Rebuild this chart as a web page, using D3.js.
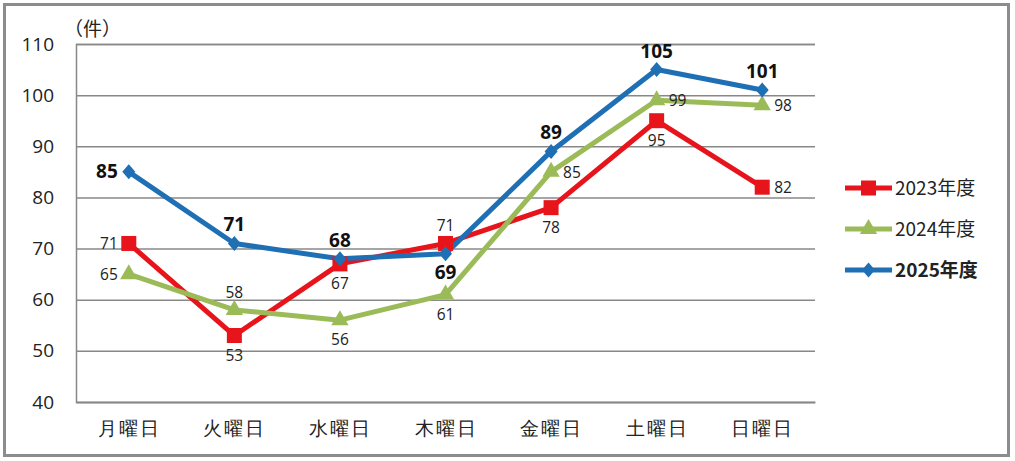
<!DOCTYPE html>
<html><head><meta charset="utf-8">
<script src="https://cdn.jsdelivr.net/npm/d3@7"></script>
<style>
body{margin:0;background:#fff;}
svg{display:block;font-family:"Noto Sans CJK JP","Noto Sans",sans-serif;}
</style></head>
<body><svg id="c" width="1015" height="461"></svg>
<script>
const categories = ["月曜日","火曜日","水曜日","木曜日","金曜日","土曜日","日曜日"];
const seriesNames = ["2023年度","2024年度","2025年度"];
const values2023 = [71,53,67,71,78,95,82];
const values2024 = [65,58,56,61,85,99,98];
const values2025 = [85,71,68,69,89,105,101];
const yTicks = [40,50,60,70,80,90,100,110];
const labelPos2023 = ["left","below","below","above","below","below","right"];
const labelPos2024 = ["left","above","below","below","right","right","right"];
const labelPos2025 = ["left","above","above","below","above","above","above"];

(function(){
const series = [
  {name:seriesNames[0], values:values2023, color:"#e8141b", marker:"square", pos:labelPos2023, bold:false},
  {name:seriesNames[1], values:values2024, color:"#9bbb59", marker:"triangle", pos:labelPos2024, bold:false},
  {name:seriesNames[2], values:values2025, color:"#1f6fb4", marker:"diamond", pos:labelPos2025, bold:true}
];

const svg = d3.select("#c");
svg.append("rect").attr("x",4.5).attr("y",4.5).attr("width",1004).attr("height",451)
  .attr("fill","#fff").attr("stroke","#8c8c8c").attr("stroke-width",3);

const pL=76, pR=815, pT=44, pB=402;
const x = d3.scalePoint().domain(categories).range([pL,pR]).padding(0.5);
const y = d3.scaleLinear().domain([40,110]).range([pB,pT]);

const yAxis = d3.axisLeft(y).tickValues(yTicks).tickSize(-(pR-pL)).tickPadding(22);
const gy = svg.append("g").attr("transform",`translate(${pL},0)`).call(yAxis);
gy.select(".domain").attr("stroke","#888").attr("stroke-width",1.5);
gy.selectAll(".tick line").attr("stroke","#888").attr("stroke-width",1.5);
gy.selectAll(".tick text").attr("font-size",19).attr("fill","#222")
  .attr("font-family","'Open Sans','Noto Sans',sans-serif");

const xAxis = d3.axisBottom(x).tickSize(0).tickPadding(20);
const gx = svg.append("g").attr("transform",`translate(0,${pB})`).call(xAxis);
gx.select(".domain").attr("stroke","#888").attr("stroke-width",1.5);
gx.selectAll(".tick text").attr("font-size",19).attr("letter-spacing","2px").attr("fill","#222").attr("dy","0.71em");

svg.append("text").attr("x",64).attr("y",36).attr("font-size",19).attr("fill","#222").text("（件）");

const line = d3.line().x((d,i)=>x(categories[i])).y(d=>y(d));
function markerPath(type){
  if(type==="square") return d3.symbol(d3.symbolSquare,225)();
  if(type==="triangle") return d3.symbol(d3.symbolTriangle,130)();
  return "M0,-7.5L6.5,0L0,7.5L-6.5,0Z";
}

series.forEach(s=>{
  svg.append("path").datum(s.values).attr("d",line).attr("fill","none")
    .attr("stroke",s.color).attr("stroke-width",5).attr("stroke-linejoin","round");
});
series.forEach(s=>{
  svg.selectAll(null).data(s.values).enter().append("path")
    .attr("d",markerPath(s.marker))
    .attr("transform",(d,i)=>`translate(${x(categories[i])},${y(d)})`)
    .attr("fill",s.color);
});
series.forEach(s=>{
  svg.selectAll(null).data(s.values).enter().append("text")
    .text(d=>d)
    .attr("font-size",s.bold?19:15.5)
    .attr("font-weight",s.bold?"bold":"normal")
    .attr("font-family","'Open Sans','Noto Sans',sans-serif")
    .attr("fill",s.bold?"#111":"#222")
    .attr("text-anchor",(d,i)=>s.pos[i]==="left"?"end":s.pos[i]==="right"?"start":"middle")
    .attr("x",(d,i)=>{const cx=x(categories[i]);return s.pos[i]==="left"?cx-11:s.pos[i]==="right"?cx+12:cx;})
    .attr("y",(d,i)=>{const cy=y(d);return s.pos[i]==="above"?cy-12:s.pos[i]==="below"?cy+25:cy+6;});
});

const legend = svg.append("g");
series.forEach((s,i)=>{
  const ly = 188 + i*41;
  legend.append("line").attr("x1",845).attr("x2",892).attr("y1",ly).attr("y2",ly)
    .attr("stroke",s.color).attr("stroke-width",5);
  legend.append("path").attr("d",markerPath(s.marker)).attr("transform",`translate(868.5,${ly})`).attr("fill",s.color);
  legend.append("text").attr("x",895).attr("y",ly+7).attr("font-size",19)
    .attr("font-weight",s.bold?"bold":"normal").attr("fill","#222").text(s.name);
});
})();
</script></body></html>
